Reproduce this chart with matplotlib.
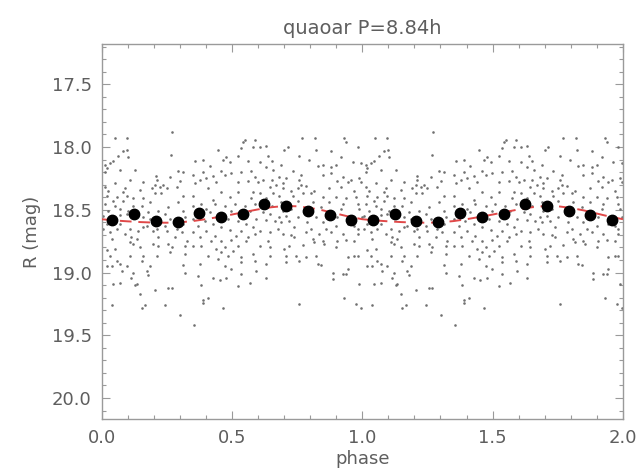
import numpy as np
import matplotlib
matplotlib.use('Agg')
import matplotlib.pyplot as plt
from matplotlib.ticker import MultipleLocator

# puntos individuales (una sola fase 0-1, se repite en 1-2)
phase_pts = [
    0.083, 0.099, 0.064, 0.103, 0.045, 0.032, 0.013, 0.266, 0.020, 0.071, 0.128, 0.013, 0.294, 0.314,
    0.209, 0.262, 0.109, 0.211, 0.052, 0.301, 0.205, 0.160, 0.237, 0.013, 0.090, 0.147, 0.192, 0.224,
    0.250, 0.288, 0.026, 0.083, 0.205, 0.020, 0.058, 0.096, 0.160, 0.230, 0.314, 0.045, 0.083, 0.122,
    0.186, 0.294, 0.013, 0.052, 0.154, 0.256, 0.026, 0.071, 0.103, 0.122, 0.179, 0.218, 0.243, 0.314,
    0.007, 0.071, 0.096, 0.160, 0.186, 0.262, 0.320, 0.020, 0.071, 0.173, 0.243, 0.314, 0.007, 0.058,
    0.109, 0.160, 0.211, 0.288, 0.032, 0.090, 0.141, 0.198, 0.250, 0.307, 0.039, 0.115, 0.135, 0.218,
    0.282, 0.326, 0.109, 0.122, 0.198, 0.256, 0.320, 0.020, 0.052, 0.147, 0.218, 0.269, 0.032, 0.109,
    0.160, 0.211, 0.262, 0.320, 0.058, 0.154, 0.071, 0.020, 0.039, 0.096, 0.186, 0.314, 0.122, 0.173,
    0.077, 0.115, 0.071, 0.045, 0.135, 0.179, 0.128, 0.256, 0.269, 0.205, 0.147, 0.320, 0.039, 0.154,
    0.167, 0.243, 0.301,
    0.543, 0.607, 0.632, 0.447, 0.536, 0.581, 0.524, 0.639, 0.358, 0.466, 0.479, 0.390, 0.492, 0.562,
    0.607, 0.652, 0.415, 0.632, 0.351, 0.390, 0.460, 0.498, 0.536, 0.473, 0.575, 0.658, 0.428, 0.588,
    0.377, 0.402, 0.620, 0.358, 0.441, 0.524, 0.562, 0.600, 0.652, 0.645, 0.671, 0.409, 0.460, 0.524,
    0.581, 0.607, 0.658, 0.351, 0.428, 0.492, 0.575, 0.632, 0.383, 0.434, 0.473, 0.351, 0.511, 0.549,
    0.588, 0.652, 0.402, 0.415, 0.498, 0.568, 0.620, 0.645, 0.351, 0.396, 0.485, 0.524, 0.594, 0.632,
    0.664, 0.370, 0.428, 0.460, 0.556, 0.581, 0.351, 0.402, 0.492, 0.536, 0.607, 0.645, 0.377, 0.434,
    0.517, 0.562, 0.588, 0.421, 0.460, 0.498, 0.556, 0.639, 0.351, 0.383, 0.441, 0.473, 0.524, 0.607,
    0.645, 0.460, 0.505, 0.581, 0.409, 0.485, 0.536, 0.645, 0.447, 0.536, 0.588, 0.377, 0.632, 0.473,
    0.498, 0.536, 0.594, 0.370, 0.428, 0.453, 0.479, 0.632, 0.383, 0.568, 0.524, 0.409, 0.390, 0.466,
    0.355,
    0.714, 0.701, 0.758, 0.822, 0.880, 0.937, 0.982, 0.797, 0.688, 0.829, 0.848, 0.918, 0.963, 0.995,
    0.733, 0.765, 0.880, 0.899, 0.682, 0.707, 0.758, 0.848, 0.880, 0.925, 0.957, 0.989, 0.695, 0.765,
    0.784, 0.905, 0.944, 0.995, 0.695, 0.727, 0.752, 0.816, 0.873, 0.918, 0.969, 0.682, 0.733, 0.771,
    0.803, 0.848, 0.899, 0.937, 0.976, 0.688, 0.752, 0.810, 0.873, 0.925, 0.982, 0.695, 0.727, 0.778,
    0.842, 0.918, 0.989, 0.682, 0.707, 0.752, 0.822, 0.905, 0.998, 0.688, 0.720, 0.790, 0.848, 0.944,
    0.969, 0.675, 0.739, 0.803, 0.861, 0.899, 0.982, 0.695, 0.727, 0.784, 0.835, 0.880, 0.925, 0.982,
    0.739, 0.810, 0.848, 0.905, 0.969, 0.701, 0.720, 0.771, 0.816, 0.854, 0.899, 0.937, 0.707, 0.746,
    0.784, 0.822, 0.944, 0.969, 0.982, 0.758, 0.707, 0.829, 0.842, 0.944, 0.886, 0.925, 0.937, 0.886,
    0.989, 0.931, 0.758, 0.976, 0.995,
    0.050, 0.096, 0.270, 0.550, 0.590, 0.770, 0.820, 0.930, 0.390,
]
mag_pts = [
    18.03, 18.02, 18.07, 18.08, 18.11, 18.13, 18.14, 18.06, 18.17, 18.18, 18.18, 18.20, 18.19, 18.20,
    18.23, 18.24, 18.26, 18.26, 18.29, 18.27, 18.30, 18.28, 18.30, 18.32, 18.33, 18.34, 18.33, 18.32,
    18.33, 18.32, 18.35, 18.36, 18.37, 18.39, 18.40, 18.39, 18.41, 18.37, 18.39, 18.43, 18.43, 18.41,
    18.44, 18.44, 18.45, 18.47, 18.47, 18.48, 18.51, 18.49, 18.51, 18.47, 18.52, 18.51, 18.53, 18.51,
    18.55, 18.54, 18.53, 18.56, 18.57, 18.57, 18.56, 18.61, 18.61, 18.63, 18.63, 18.61, 18.65, 18.65,
    18.65, 18.64, 18.65, 18.65, 18.68, 18.69, 18.67, 18.67, 18.67, 18.68, 18.73, 18.72, 18.73, 18.72,
    18.72, 18.75, 18.76, 18.77, 18.77, 18.77, 18.79, 18.82, 18.81, 18.80, 18.79, 18.80, 18.87, 18.87,
    18.87, 18.87, 18.84, 18.85, 18.91, 18.91, 18.93, 18.95, 18.95, 18.95, 18.95, 18.94, 19.00, 18.99,
    18.99, 19.04, 19.08, 19.09, 19.09, 19.02, 19.10, 19.12, 19.12, 19.14, 19.17, 19.00, 19.26, 19.28,
    19.26, 19.26, 19.34,
    17.96, 18.00, 17.99, 18.02, 18.01, 18.00, 18.07, 18.07, 18.11, 18.10, 18.08, 18.10, 18.12, 18.11,
    18.12, 18.11, 18.15, 18.16, 18.22, 18.20, 18.19, 18.21, 18.20, 18.22, 18.19, 18.18, 18.23, 18.24,
    18.26, 18.25, 18.26, 18.29, 18.28, 18.28, 18.27, 18.28, 18.26, 18.32, 18.30, 18.33, 18.36, 18.36,
    18.36, 18.37, 18.37, 18.39, 18.42, 18.40, 18.41, 18.41, 18.45, 18.45, 18.47, 18.47, 18.45, 18.47,
    18.45, 18.47, 18.49, 18.52, 18.51, 18.51, 18.52, 18.53, 18.57, 18.59, 18.57, 18.59, 18.57, 18.58,
    18.59, 18.63, 18.61, 18.64, 18.61, 18.64, 18.68, 18.67, 18.66, 18.67, 18.67, 18.68, 18.72, 18.71,
    18.71, 18.72, 18.69, 18.75, 18.75, 18.74, 18.75, 18.75, 18.79, 18.79, 18.81, 18.80, 18.79, 18.79,
    18.80, 18.84, 18.83, 18.85, 18.87, 18.87, 18.88, 18.87, 18.89, 18.92, 18.91, 18.93, 18.93, 18.95,
    18.97, 19.01, 18.99, 19.03, 19.04, 19.06, 19.04, 19.04, 19.10, 19.08, 19.11, 19.20, 19.24, 19.28,
    19.42,
    18.00, 18.02, 18.07, 18.02, 18.03, 17.96, 18.00, 18.10, 18.14, 18.15, 18.14, 18.08, 18.12, 18.13,
    18.19, 18.22, 18.16, 18.14, 18.24, 18.25, 18.26, 18.22, 18.21, 18.24, 18.26, 18.25, 18.29, 18.30,
    18.31, 18.27, 18.28, 18.28, 18.33, 18.35, 18.33, 18.35, 18.33, 18.32, 18.35, 18.39, 18.39, 18.37,
    18.37, 18.40, 18.40, 18.41, 18.40, 18.44, 18.43, 18.44, 18.44, 18.45, 18.45, 18.51, 18.49, 18.49,
    18.48, 18.49, 18.49, 18.56, 18.55, 18.56, 18.56, 18.56, 18.56, 18.60, 18.59, 18.60, 18.60, 18.61,
    18.63, 18.65, 18.64, 18.65, 18.65, 18.63, 18.65, 18.69, 18.70, 18.68, 18.69, 18.68, 18.69, 18.69,
    18.72, 18.73, 18.75, 18.75, 18.75, 18.81, 18.79, 18.78, 18.76, 18.77, 18.80, 18.74, 18.87, 18.87,
    18.88, 18.87, 18.88, 18.87, 18.87, 18.91, 18.92, 18.93, 18.94, 18.97, 19.00, 19.01, 19.01, 19.05,
    19.09, 19.20, 19.25, 19.25, 19.28,
    17.93, 17.93, 17.88, 17.94, 17.94, 17.93, 17.93, 17.93, 19.22,
]

# promedios por bin de fase
bin_phase = [0.042, 0.125, 0.208, 0.292, 0.375, 0.458, 0.542, 0.625, 0.708, 0.792, 0.875, 0.958]
bin_mag = [18.578, 18.534, 18.592, 18.600, 18.522, 18.555, 18.530, 18.455, 18.470, 18.513, 18.540, 18.580]
bin_err = [0.030, 0.035, 0.030, 0.030, 0.035, 0.030, 0.030, 0.030, 0.030, 0.030, 0.030, 0.030]

# curva ajustada
fit_phase = [0.00, 0.05, 0.10, 0.15, 0.20, 0.25, 0.30, 0.35, 0.40, 0.45, 0.50,
             0.55, 0.60, 0.65, 0.70, 0.75, 0.80, 0.85, 0.90, 0.95, 1.00]
fit_mag = [18.575, 18.585, 18.592, 18.598, 18.602, 18.603, 18.600, 18.590, 18.575, 18.557, 18.538,
           18.517, 18.497, 18.480, 18.470, 18.472, 18.485, 18.505, 18.530, 18.555, 18.575]

# dos ciclos
ph = np.concatenate([np.array(phase_pts), np.array(phase_pts) + 1])
mg = np.concatenate([mag_pts, mag_pts])
bph = np.concatenate([np.array(bin_phase), np.array(bin_phase) + 1])
bmg = np.concatenate([bin_mag, bin_mag])
ber = np.concatenate([bin_err, bin_err])
fph = np.concatenate([np.array(fit_phase), np.array(fit_phase[1:]) + 1])
fmg = np.concatenate([fit_mag, fit_mag[1:]])

txt = '#5e5e5e'
frame = '#9a9a9a'

fig = plt.figure(figsize=(6.4, 4.72), dpi=100)
ax = fig.add_axes([0.1586, 0.1115, 0.8148, 0.795])

ax.scatter(ph, mg, s=3.5, color='#707070', linewidths=0, zorder=2)
ax.plot(fph, fmg, color='#e04848', lw=1.4, dashes=(6, 3.5), zorder=3)
ax.errorbar(bph, bmg, yerr=ber, fmt='o', color='black', ms=7.5, elinewidth=1.6, capsize=0, zorder=4)

ax.set_xlim(0, 2)
ax.set_ylim(20.17, 17.18)
ax.xaxis.set_major_locator(MultipleLocator(0.5))
ax.xaxis.set_minor_locator(MultipleLocator(0.1))
ax.yaxis.set_major_locator(MultipleLocator(0.5))
ax.yaxis.set_minor_locator(MultipleLocator(0.1))
ax.xaxis.set_major_formatter(matplotlib.ticker.FormatStrFormatter('%.1f'))
ax.yaxis.set_major_formatter(matplotlib.ticker.FormatStrFormatter('%.1f'))

ax.tick_params(which='both', direction='in', top=True, right=True, color=frame,
               labelcolor=txt, labelsize=13, width=0.8)
ax.tick_params(which='major', length=6, pad=7)
ax.tick_params(which='minor', length=3)
for sp in ax.spines.values():
    sp.set_color(frame)
    sp.set_linewidth(1.0)

ax.set_title('quaoar P=8.84h', color=txt, fontsize=14, pad=7)
ax.set_xlabel('phase', color=txt, fontsize=13, labelpad=2)
ax.set_ylabel('R (mag)', color=txt, fontsize=13, labelpad=8)

fig.savefig('out.png', dpi=100)
